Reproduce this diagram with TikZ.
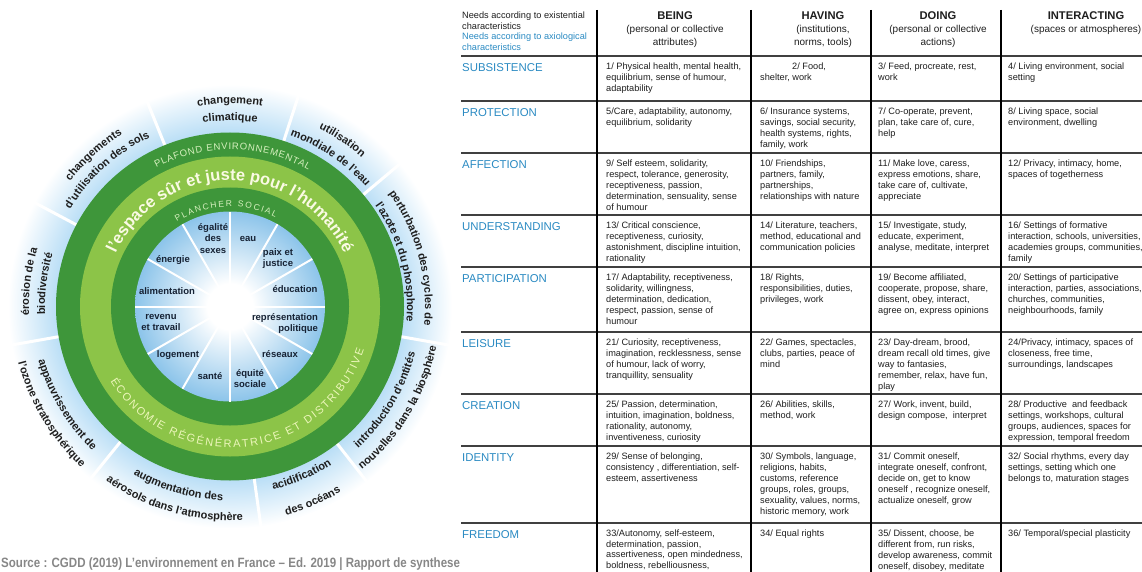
\documentclass[tikz,border=0pt]{standalone}
\usepackage{fontspec}
\setmainfont{Liberation Sans}
\usepackage{graphicx}
\usetikzlibrary{decorations.text,positioning}

\definecolor{darkring}{RGB}{62,150,58}
\definecolor{lightring}{RGB}{140,196,72}
\definecolor{haloblue}{RGB}{185,222,246}
\definecolor{diskblue}{RGB}{140,196,234}
\definecolor{ringtext}{RGB}{214,240,190}
\definecolor{humtext}{RGB}{250,250,228}
\definecolor{ecotext}{RGB}{236,246,186}
\definecolor{boundgray}{RGB}{30,30,30}
\definecolor{labelnavy}{RGB}{22,34,52}
\definecolor{needblue}{RGB}{42,138,194}
\definecolor{celltext}{RGB}{30,30,30}
\definecolor{srcgray}{RGB}{135,135,135}

\pgfdeclareradialshading{halo}{\pgfpoint{0bp}{0bp}}{color(0bp)=(haloblue); color(19.5bp)=(haloblue); color(25bp)=(white); color(50bp)=(white)}
\pgfdeclareradialshading{disk}{\pgfpoint{0bp}{0bp}}{color(0bp)=(white); color(6bp)=(white); color(25bp)=(diskblue); color(50bp)=(diskblue)}

\newcommand\boundfont{\fontsize{11}{11}\selectfont\bfseries}

\tikzset{
	boundtext/.style={decorate, decoration={text along path, text align=center, text color=boundgray, text={|\boundfont|#1}}},
	ringlabel/.style={decorate, decoration={text along path, text align=fit to path, text color=ringtext, text={#1}}},
	innerlabel/.style={inner sep=0pt, align=center, text=labelnavy, font=\fontsize{9.5}{11.5}\selectfont\bfseries},
	needlabel/.style={anchor=north west, inner sep=0pt, text=needblue, font=\fontsize{11.4}{13}\selectfont},
	needcell/.style={anchor=north west, inner sep=0pt, align=left, text=celltext, font=\fontsize{9.2}{11}\selectfont},
	colhead/.style={anchor=north, inner sep=0pt, align=center, text=celltext, font=\fontsize{10}{13}\selectfont},
	rowline/.style={line width=1.5pt, black!75},
	colline/.style={line width=1.4pt, black}
}

\begin{document}
\begin{tikzpicture}[x=1pt, y=1pt]
	\useasboundingbox (0,0) rectangle (1142,-572);
	\clip (0,0) rectangle (1142,-572);

	% doughnut
	\begin{scope}[shift={(230,-306.5)}]
	\shade [shading=halo] (0,0) circle (222);
	\foreach \a in {112,72,40,-10,-52,-82,231,190,152}
		\draw [white, line width=3pt] (\a:170) -- (\a:224);
	\fill [darkring] (0,0) circle (174);
	\fill [lightring] (0,0) circle (150);
	\fill [darkring] (0,0) circle (119);
	\shade [shading=disk] (0,0) circle (95);
	\foreach \a in {0,30,...,330}
		\draw [white, line width=2pt] (0,0) -- (\a:95);

	% planetary boundaries, top: clockwise
	\path [boundtext={changement}]			(125:203) arc [start angle=125, end angle=55, radius=203];
	\path [boundtext={climatique}]			(125:186) arc [start angle=125, end angle=55, radius=186];
	\path [boundtext={utilisation}]			(91:199) arc [start angle=91, end angle=21, radius=199];
	\path [boundtext={mondiale de l'eau}]		(91:181) arc [start angle=91, end angle=21, radius=181];
	\path [boundtext={perturbation des cycles de}]	(55:195) arc [start angle=55, end angle=-25, radius=195];
	\path [boundtext={l'azote et du phosphore}]	(55:177) arc [start angle=55, end angle=-25, radius=177];
	\path [boundtext={érosion de la}]		(208:201) arc [start angle=208, end angle=138, radius=201];
	\path [boundtext={biodiversité}]		(208:185) arc [start angle=208, end angle=138, radius=185];
	\path [boundtext={changements}]			(167:203) arc [start angle=167, end angle=97, radius=203];
	\path [boundtext={d'utilisation des sols}]	(167:187) arc [start angle=167, end angle=97, radius=187];
	% bottom: counter-clockwise
	\path [boundtext={introduction d'entités}]	(-71:191) arc [start angle=-71, end angle=9, radius=191];
	\path [boundtext={nouvelles dans la biosphère}]	(-71:210) arc [start angle=-71, end angle=9, radius=210];
	\path [boundtext={acidification}]		(-102:188) arc [start angle=-102, end angle=-32, radius=188];
	\path [boundtext={des océans}]			(-102:216) arc [start angle=-102, end angle=-32, radius=216];
	\path [boundtext={augmentation des}]		(214:194) arc [start angle=214, end angle=294, radius=194];
	\path [boundtext={aérosols dans l'atmosphère}]	(214:214) arc [start angle=214, end angle=294, radius=214];
	\path [boundtext={appauvrissement de}]		(171:199) arc [start angle=171, end angle=251, radius=199];
	\path [boundtext={l'ozone stratosphérique}]	(171:219) arc [start angle=171, end angle=251, radius=219];

	% rings
	\path [ringlabel={|\fontsize{9.5}{9.5}\selectfont|PLAFOND ENVIRONNEMENTAL}]	(118:157) arc [start angle=118, end angle=60, radius=157];
	\path [ringlabel={|\fontsize{8.5}{8.5}\selectfont|PLANCHER SOCIAL}]		(122:100) arc [start angle=122, end angle=63, radius=100];
	\path [decorate, decoration={text along path, text align=center, text color=humtext,
		text={|\fontsize{16.5}{16.5}\selectfont\bfseries|l'espace sûr et juste pour l'humanité}}]
		(165:126) arc [start angle=165, end angle=15, radius=126];
	\path [decorate, decoration={text along path, text align=fit to path, text color=ecotext,
		text={|\fontsize{11}{11}\selectfont|ÉCONOMIE RÉGÉNÉRATRICE ET DISTRIBUTIVE}}]
		(212:141) arc [start angle=212, end angle=342, radius=141];

	% social foundation
	\node	(eau)		[innerlabel]		at (18,68)	{eau};
	\node	(paix)		[innerlabel]		at (48,48)	{paix et\\justice};
	\node	(educ)		[innerlabel]		at (65,17)	{éducation};
	\node	(repr)		[innerlabel, align=right] at (55,-17)	{représentation\\politique};
	\node	(reseaux)	[innerlabel]		at (50,-48)	{réseaux};
	\node	(equite)	[innerlabel]		at (20,-72)	{équité\\sociale};
	\node	(sante)		[innerlabel]		at (-20,-70)	{santé};
	\node	(logement)	[innerlabel]		at (-52,-49)	{logement};
	\node	(revenu)	[innerlabel]		at (-69,-16)	{revenu\\et travail};
	\node	(alim)		[innerlabel]		at (-63,15)	{alimentation};
	\node	(energie)	[innerlabel]		at (-57,46)	{énergie};
	\node	(egalite)	[innerlabel]		at (-17,68)	{égalité\\des\\sexes};
	\end{scope}

	\node	(source)	[anchor=west, inner sep=0pt, text=srcgray, font=\fontsize{13.5}{13.5}\selectfont\bfseries] at (1,-564)
		{\scalebox{.855}[1]{Source : CGDD (2019) L’environnement en France – Ed. 2019 | Rapport de synthese}};

	% needs table
	\foreach \y in {56,101,153,215,267,332,394,446,523}
		\draw [rowline] (461,-\y) -- (1142,-\y);
	\foreach \x in {597,751,871,1001}
		\draw [colline] (\x,-10) -- (\x,-572);

	\node	(exist)		[needcell, font=\fontsize{9.2}{10.7}\selectfont] at (462,-11.5)
		{Needs according to existential\\characteristics\\\textcolor{needblue}{Needs according to axiological}\\\textcolor{needblue}{characteristics}};
	\node	(being)		[colhead]	at (675,-11.5)	{{\bfseries\fontsize{11.2}{13}\selectfont BEING}\\(personal or collective\\attributes)};
	\node	(having)	[colhead]	at (823,-11.5)	{{\bfseries\fontsize{11.2}{13}\selectfont HAVING}\\(institutions,\\norms, tools)};
	\node	(doing)		[colhead]	at (938,-11.5)	{{\bfseries\fontsize{11.2}{13}\selectfont DOING}\\(personal or collective\\actions)};
	\node	(interact)	[colhead]	at (1086,-11.5)	{{\bfseries\fontsize{11.2}{13}\selectfont INTERACTING}\\(spaces or atmospheres)};

	\node	(subsistence)	[needlabel]	at (462,-63.4)	{SUBSISTENCE};
	\node	(b1)	[needcell]	at (606,-62.8)	{1/ Physical health, mental health,\\equilibrium, sense of humour,\\adaptability};
	\node	(h1)	[needcell]	at (760,-62.8)	{\hspace*{32pt}2/ Food,\\shelter, work};
	\node	(d1)	[needcell]	at (878,-62.8)	{3/ Feed, procreate, rest,\\work};
	\node	(i1)	[needcell]	at (1008,-62.8)	{4/ Living environment, social\\setting};

	\node	(protection)	[needlabel]	at (462,-108.4)	{PROTECTION};
	\node	(b2)	[needcell]	at (606,-107.8)	{5/Care, adaptability, autonomy,\\equilibrium, solidarity};
	\node	(h2)	[needcell]	at (760,-107.8)	{6/ Insurance systems,\\savings, social security,\\health systems, rights,\\family, work};
	\node	(d2)	[needcell]	at (878,-107.8)	{7/ Co-operate, prevent,\\plan, take care of, cure,\\help};
	\node	(i2)	[needcell]	at (1008,-107.8)	{8/ Living space, social\\environment, dwelling};

	\node	(affection)	[needlabel]	at (462,-160.4)	{AFFECTION};
	\node	(b3)	[needcell]	at (606,-159.8)	{9/ Self esteem, solidarity,\\respect, tolerance, generosity,\\receptiveness, passion,\\determination, sensuality, sense\\of humour};
	\node	(h3)	[needcell]	at (760,-159.8)	{10/ Friendships,\\partners, family,\\partnerships,\\relationships with nature};
	\node	(d3)	[needcell]	at (878,-159.8)	{11/ Make love, caress,\\express emotions, share,\\take care of, cultivate,\\appreciate};
	\node	(i3)	[needcell]	at (1008,-159.8)	{12/ Privacy, intimacy, home,\\spaces of togetherness};

	\node	(understanding)	[needlabel]	at (462,-222.4)	{UNDERSTANDING};
	\node	(b4)	[needcell]	at (606,-221.8)	{13/ Critical conscience,\\receptiveness, curiosity,\\astonishment, discipline intuition,\\rationality};
	\node	(h4)	[needcell]	at (760,-221.8)	{14/ Literature, teachers,\\method, educational and\\communication policies};
	\node	(d4)	[needcell]	at (878,-221.8)	{15/ Investigate, study,\\educate, experiment,\\analyse, meditate, interpret};
	\node	(i4)	[needcell]	at (1008,-221.8)	{16/ Settings of formative\\interaction, schools, universities,\\academies groups, communities,\\family};

	\node	(participation)	[needlabel]	at (462,-274.4)	{PARTICIPATION};
	\node	(b5)	[needcell]	at (606,-273.8)	{17/ Adaptability, receptiveness,\\solidarity, willingness,\\determination, dedication,\\respect, passion, sense of\\humour};
	\node	(h5)	[needcell]	at (760,-273.8)	{18/ Rights,\\responsibilities, duties,\\privileges, work};
	\node	(d5)	[needcell]	at (878,-273.8)	{19/ Become affiliated,\\cooperate, propose, share,\\dissent, obey, interact,\\agree on, express opinions};
	\node	(i5)	[needcell]	at (1008,-273.8)	{20/ Settings of participative\\interaction, parties, associations,\\churches, communities,\\neighbourhoods, family};

	\node	(leisure)	[needlabel]	at (462,-339.4)	{LEISURE};
	\node	(b6)	[needcell]	at (606,-338.8)	{21/ Curiosity, receptiveness,\\imagination, recklessness, sense\\of humour,  lack of worry,\\tranquillity, sensuality};
	\node	(h6)	[needcell]	at (760,-338.8)	{22/ Games, spectacles,\\clubs, parties, peace of\\mind};
	\node	(d6)	[needcell]	at (878,-338.8)	{23/ Day-dream, brood,\\dream recall old times, give\\way to fantasies,\\remember, relax, have fun,\\play};
	\node	(i6)	[needcell]	at (1008,-338.8)	{24/Privacy, intimacy, spaces of\\closeness, free time,\\surroundings, landscapes};

	\node	(creation)	[needlabel]	at (462,-401.4)	{CREATION};
	\node	(b7)	[needcell]	at (606,-400.8)	{25/ Passion, determination,\\intuition, imagination, boldness,\\rationality, autonomy,\\inventiveness, curiosity};
	\node	(h7)	[needcell]	at (760,-400.8)	{26/ Abilities, skills,\\method, work};
	\node	(d7)	[needcell]	at (878,-400.8)	{27/ Work, invent, build,\\design compose,\ \ interpret};
	\node	(i7)	[needcell]	at (1008,-400.8)	{28/ Productive\ \ and feedback\\settings, workshops, cultural\\groups, audiences, spaces for\\expression, temporal freedom};

	\node	(identity)	[needlabel]	at (462,-453.4)	{IDENTITY};
	\node	(b8)	[needcell]	at (606,-452.8)	{29/ Sense of belonging,\\consistency , differentiation, self-\\esteem, assertiveness};
	\node	(h8)	[needcell]	at (760,-452.8)	{30/ Symbols, language,\\religions, habits,\\customs, reference\\groups, roles, groups,\\sexuality, values, norms,\\historic memory, work};
	\node	(d8)	[needcell]	at (878,-452.8)	{31/ Commit oneself,\\integrate oneself, confront,\\decide on, get to know\\oneself , recognize oneself,\\actualize oneself, grow};
	\node	(i8)	[needcell]	at (1008,-452.8)	{32/ Social rhythms, every day\\settings, setting which one\\belongs to, maturation stages};

	\node	(freedom)	[needlabel]	at (462,-530.4)	{FREEDOM};
	\node	(b9)	[needcell, font=\fontsize{9.2}{10.6}\selectfont]	at (606,-529.8)	{33/Autonomy, self-esteem,\\determination, passion,\\assertiveness, open mindedness,\\boldness, rebelliousness,\\tolerance};
	\node	(h9)	[needcell]	at (760,-529.8)	{34/ Equal rights};
	\node	(d9)	[needcell]	at (878,-529.8)	{35/ Dissent, choose, be\\different from, run risks,\\develop awareness, commit\\oneself, disobey, meditate};
	\node	(i9)	[needcell]	at (1008,-529.8)	{36/ Temporal/special plasticity};
\end{tikzpicture}
\end{document}
